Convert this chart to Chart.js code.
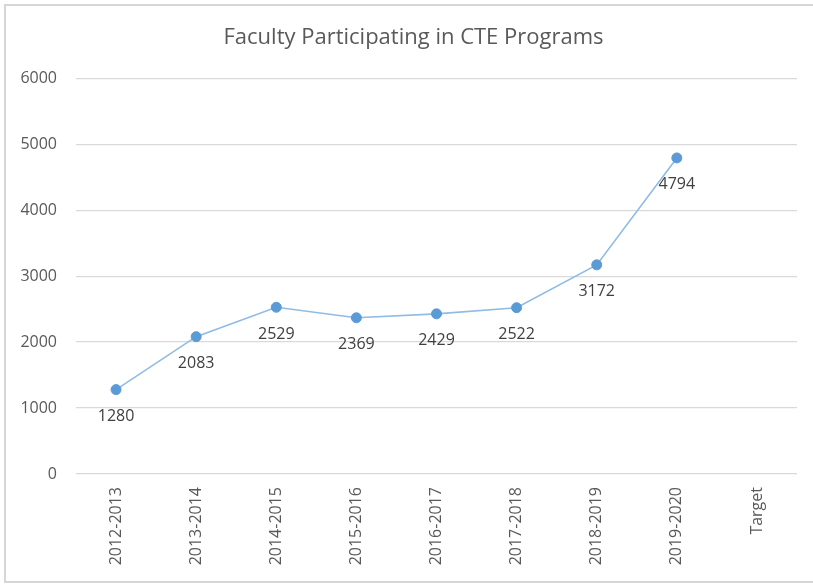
<!DOCTYPE html>
<html>
<head>
<meta charset="utf-8">
<script src="https://cdn.jsdelivr.net/npm/chart.js@4.4.1/dist/chart.umd.min.js"></script>
<style>
  html, body { margin: 0; padding: 0; background: #ffffff; overflow: hidden; }
  #clip { position: absolute; left: 0; top: 0; width: 813px; height: 584px; overflow: hidden; }
  #frame { position: absolute; left: 4px; top: 4px; width: 850px; height: 579px; border: 2px solid #d6d6d6; border-right: none; box-sizing: border-box; }
  #wrap { position: absolute; left: 0; top: 0; width: 813px; height: 584px; }
</style>
</head>
<body>
<div id="clip">
<div id="frame"></div>
<div id="wrap"><canvas id="c" width="813" height="584"></canvas></div>
</div>
<script>
const categories = ["2012-2013", "2013-2014", "2014-2015", "2015-2016", "2016-2017", "2017-2018", "2018-2019", "2019-2020", "Target"];
const faculty = [1280, 2083, 2529, 2369, 2429, 2522, 3172, 4794, null];
const yTicks = [0, 1000, 2000, 3000, 4000, 5000, 6000];
const titleText = "Faculty Participating in CTE Programs";

const FONT = "'Open Sans', 'Noto Sans', sans-serif";

const valueLabels = {
  id: 'valueLabels',
  afterDatasetsDraw(chart) {
    const ctx = chart.ctx;
    const meta = chart.getDatasetMeta(0);
    ctx.save();
    ctx.font = "16px " + FONT;
    ctx.fillStyle = "#404040";
    ctx.textAlign = "center";
    ctx.textBaseline = "middle";
    meta.data.forEach((pt, i) => {
      const v = chart.data.datasets[0].data[i];
      if (v === null || v === undefined) return;
      ctx.fillText(String(v), pt.x, pt.y + 27);
    });
    ctx.restore();
  }
};

new Chart(document.getElementById('c'), {
  type: 'line',
  data: {
    labels: categories,
    datasets: [{
      data: faculty,
      borderColor: '#8fbbe4',
      borderWidth: 1.6,
      backgroundColor: '#5b9bd5',
      pointBackgroundColor: '#5b9bd5',
      pointBorderColor: '#5b9bd5',
      pointRadius: 5,
      pointBorderWidth: 1,
      tension: 0,
      fill: false
    }]
  },
  options: {
    responsive: false,
    animation: false,
    devicePixelRatio: 1,
    layout: { padding: { left: 30, right: 16, top: 0, bottom: 0 } },
    plugins: {
      legend: { display: false },
      tooltip: { enabled: false },
      title: {
        display: true,
        text: titleText,
        color: '#595959',
        font: { family: FONT, size: 22, weight: 'normal' },
        padding: { top: 25, bottom: 27 }
      }
    },
    scales: {
      x: {
        offset: true,
        grid: { display: false, drawTicks: false },
        border: { display: false },
        ticks: {
          color: '#595959',
          font: { family: FONT, size: 16 },
          minRotation: 90,
          maxRotation: 90,
          padding: 13,
          autoSkip: false
        },
        afterFit(scale) { scale.height = 110; }
      },
      y: {
        min: 0,
        max: 6000,
        afterBuildTicks(scale) { scale.ticks = yTicks.map(v => ({ value: v })); },
        grid: { color: '#d9d9d9', lineWidth: 1.3, drawTicks: false },
        border: { display: false },
        ticks: {
          color: '#595959',
          font: { family: FONT, size: 16 },
          padding: 19,
          callback: (v) => String(v)
        },
        afterFit(scale) {
          scale.width = 46;
          scale._computeLabelArea = () => undefined;
        }
      }
    }
  },
  plugins: [valueLabels]
});
</script>
</body>
</html>
